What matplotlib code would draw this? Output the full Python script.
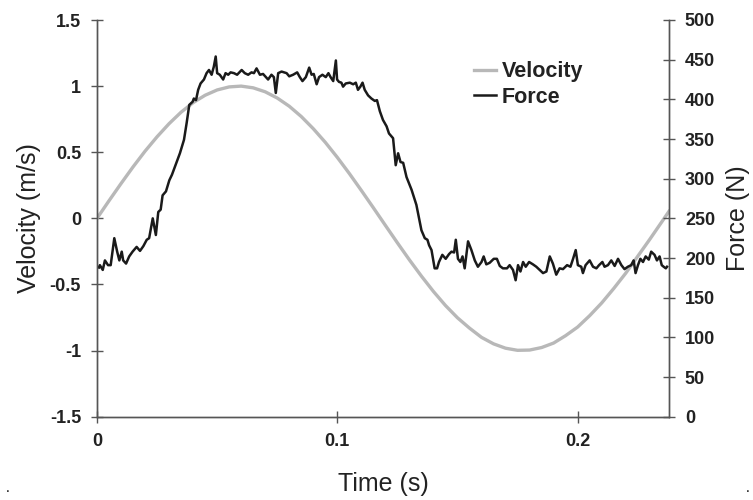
import numpy as np
import matplotlib.pyplot as plt

plt.rcParams['font.family'] = ['Liberation Sans', 'DejaVu Sans']

# Velocity (m/s), time in ms
vel_t = [0, 5, 10, 15, 20, 25, 30, 35, 40, 45, 50, 55, 60, 65, 70, 75, 80, 85, 90,
         95, 100, 105, 110, 115, 120, 125, 130, 135, 140, 145, 150, 155, 160, 165,
         170, 175, 180, 185, 190, 195, 200, 205, 210, 215, 220, 225, 230, 235, 238]
vel_v = [0.0, 0.133, 0.263, 0.389, 0.508, 0.617, 0.716, 0.803, 0.875, 0.931, 0.971,
         0.994, 1.0, 0.987, 0.957, 0.910, 0.848, 0.770, 0.678, 0.575, 0.461, 0.339,
         0.211, 0.080, -0.053, -0.185, -0.314, -0.437, -0.553, -0.659, -0.752, -0.830,
         -0.900, -0.949, -0.982, -0.998, -0.996, -0.977, -0.943, -0.887, -0.822,
         -0.736, -0.640, -0.531, -0.415, -0.287, -0.159, -0.027, 0.053]

# Force (N), time in ms
force_t = [0.8, 1.2, 2.4, 3.3, 4.6, 5.7, 7.2, 8.4, 9.3, 10.3, 10.9, 12.1, 13.4, 14.8,
           16.5, 17.9, 19.3, 20.7, 21.7, 23.2, 23.8, 24.5, 25.5, 26.5, 27.3, 28.7,
           30.1, 31.2, 32.8, 34.5, 36.2, 37.3, 38.4, 39.8, 40.3, 41.2, 42.1, 43.1,
           44.5, 45.6, 46.6, 47.7, 48.6, 49.4, 50.0, 51.1, 52.5, 53.5, 54.6, 55.6,
           57.0, 58.3, 60.2, 61.5, 62.9, 64.3, 65.3, 66.4, 67.8, 69.1, 70.3, 71.2,
           72.6, 73.6, 74.4, 75.4, 76.8, 77.8, 78.9, 80.0, 81.6, 83.3, 84.4, 85.5,
           86.9, 88.3, 89.3, 90.2, 91.4, 92.4, 93.8, 95.2, 96.3, 97.2, 98.3, 99.4,
           99.9, 100.7, 101.7, 102.4, 103.5, 105.2, 106.6, 107.7, 108.6, 109.6,
           110.5, 111.4, 112.8, 114.2, 115.6, 116.5, 117.7, 119.0, 120.5, 121.5,
           123.2, 124.3, 125.3, 126.3, 127.4, 128.8, 130.9, 132.9, 135.0, 136.4,
           137.5, 138.2, 139.2, 140.5, 141.5, 142.3, 143.7, 145.1, 146.5, 147.5,
           148.6, 149.3, 150.2, 151.2, 152.1, 153.0, 154.4, 155.8, 157.2, 158.5,
           160.0, 160.9, 162.0, 163.4, 165.1, 166.4, 167.6, 168.9, 170.6, 171.7,
           173.1, 174.2, 175.2, 176.2, 177.3, 178.4, 179.8, 181.4, 182.8, 184.2,
           185.6, 187.0, 188.4, 189.7, 191.1, 192.5, 193.9, 195.6, 197.0, 198.1,
           199.2, 200.1, 201.5, 202.2, 203.3, 205.0, 206.4, 207.8, 208.9, 210.3,
           211.2, 212.6, 214.0, 215.4, 216.8, 218.2, 219.5, 220.9, 222.3, 223.3,
           224.1, 225.1, 226.1, 227.2, 228.3, 229.6, 230.6, 232.0, 233.0, 234.1,
           235.0, 235.8, 236.7, 237.2]
force_n = [188, 191, 185, 197, 191, 191, 225, 208, 197, 208, 197, 193, 202, 208,
           214, 209, 215, 223, 225, 250, 240, 229, 258, 261, 279, 284,
           298, 305, 318, 332, 349, 370, 393, 397, 401, 399, 412, 420,
           425, 433, 437, 431, 441, 454, 433, 431, 425, 433, 431, 434,
           433, 431, 437, 433, 431, 434, 433, 439, 431, 432, 428, 425,
           431, 428, 408, 433, 435, 434, 433, 429, 431, 434, 428, 423,
           428, 440, 431, 432, 419, 428, 431, 428, 433, 428, 423, 449,
           425, 422, 421, 416, 420, 421, 419, 421, 412, 416,
           421, 412, 405, 401, 398, 399, 385, 374, 366, 357,
           351, 317, 332, 321, 320, 302, 286, 267, 235, 225,
           223, 216, 210, 187, 187, 195, 204, 199, 205, 208,
           207, 223, 199, 195, 202, 187, 221, 210, 197, 189,
           195, 202, 192, 194, 199, 199, 190, 187, 187, 191,
           185, 172, 191, 183, 195, 189, 195, 192, 189, 185,
           181, 183, 202, 193, 179, 187, 186, 191, 189, 199,
           210, 191, 189, 181, 191, 197, 189, 187, 191, 195,
           189, 191, 197, 190, 199, 191, 186, 189, 191, 197,
           181, 191, 199, 195, 202, 198, 208, 204, 197, 202,
           191, 189, 187, 189]

fig = plt.figure(figsize=(7.53, 5.0), dpi=100)
ax = fig.add_axes([0.1288, 0.1666, 0.7596, 0.7934])
ax2 = ax.twinx()

axis_col = '#555555'
v_line, = ax.plot(np.array(vel_t) / 1000, vel_v, color='#b8b8b8', lw=2.4, label='Velocity')
f_line, = ax2.plot(np.array(force_t) / 1000, force_n, color='#1a1a1a', lw=1.8, label='Force')

ax.set_xlim(0, 0.238)
ax.set_ylim(-1.5, 1.5)
ax2.set_ylim(0, 500)
ax.set_xticks([0, 0.1, 0.2])
ax.set_xticklabels(['0', '0.1', '0.2'])
ax.set_yticks([-1.5, -1, -0.5, 0, 0.5, 1, 1.5])
ax.set_yticklabels(['-1.5', '-1', '-0.5', '0', '0.5', '1', '1.5'])
ax2.set_yticks(range(0, 501, 50))

for a in (ax, ax2):
    a.spines['top'].set_visible(False)
    for s in a.spines.values():
        s.set_color(axis_col)
        s.set_linewidth(1.0)
    a.tick_params(direction='inout', length=9, width=1.0, color=axis_col,
                  labelsize=13, pad=7)
    for lab in a.get_xticklabels() + a.get_yticklabels():
        lab.set_fontweight('bold')
        lab.set_color('#222222')

ax.set_xlabel('Time (s)', fontsize=18, labelpad=16, color='#222222')
ax.set_ylabel('Velocity (m/s)', fontsize=18, labelpad=6, color='#222222')
ax2.set_ylabel('Force (N)', fontsize=18, labelpad=8, color='#222222')

leg = ax.legend(handles=[v_line, f_line], loc='upper left', bbox_to_anchor=(0.64, 0.923),
                frameon=False, prop={'weight': 'bold', 'size': 15.5}, borderpad=0,
                handlelength=1.05, handletextpad=0.25, labelspacing=0.2)
for t in leg.get_texts():
    t.set_color('#222222')

fig.text(0.007, 0.015, '.', fontsize=10)
fig.text(0.99, 0.015, '.', fontsize=10)

fig.savefig('out.png', dpi=100)
